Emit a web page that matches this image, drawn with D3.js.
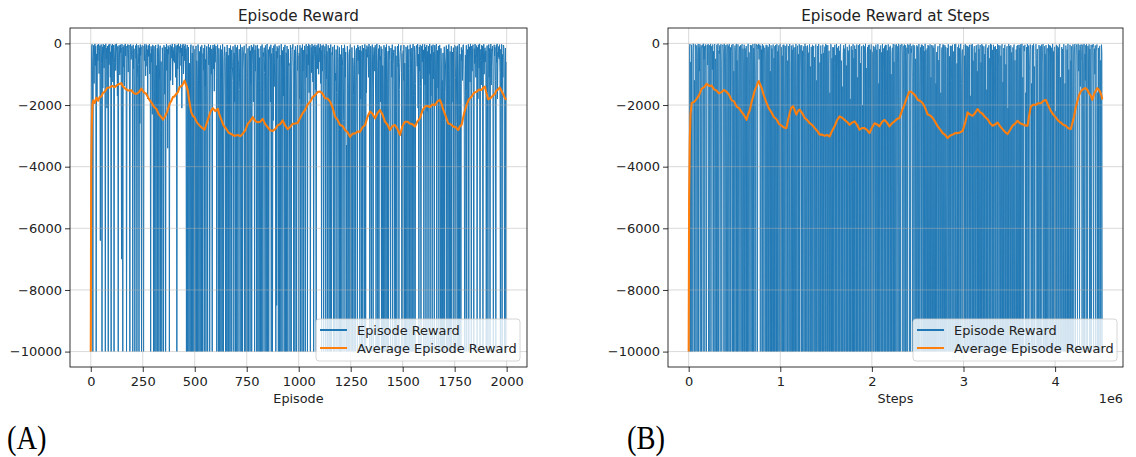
<!DOCTYPE html>
<html>
<head>
<meta charset="utf-8">
<script src="https://cdn.jsdelivr.net/npm/d3@7"></script>
<style>
  body { margin: 0; background: #fff; }
  svg text { font-family: "DejaVu Sans", sans-serif; fill: #222; }
</style>
</head>
<body>
<svg id="chart" width="1136" height="457"></svg>
<script>
// ---------- Panel A: reward per episode (one sample every 2 episodes) ----------
const episodeStride = 2;
const rewardsA = [
  -10000,-2400,-150,-30,-860,-10000,-420,-60,-1300,-210,-15,-720,-90,-10000,-340,-1800,-45,-560,-120,-20,-980,-260,-70,-6400,-180,-35,-640,-10000,-110,-1450,-25,-380,-800,-55,-240,-10000,-12,-500,-160,-2100,-85,-310,-10000,-40,-690,-130,-18,-1100,-270,-10000,
  -75,-430,-20,-1250,-190,-55,-10000,-610,-140,-30,-880,-260,-10,-350,-1700,-95,-10000,-470,-65,-220,-1020,-40,-300,-150,-7000,-25,-540,-10000,-115,-760,-60,-1380,-200,-14,-410,-85,-10000,-650,-170,-35,-930,-245,-50,-1550,-10000,-120,-28,-520,-310,-90,
  -360,-10000,-45,-820,-175,-1900,-10000,-230,-70,-480,-13,-10000,-1150,-290,-60,-680,-10000,-140,-2600,-38,-390,-105,-10000,-910,-50,-250,-1420,-10000,-80,-560,-22,-320,-1050,-150,-40,-740,-200,-1800,-65,-420,-130,-27,-990,-330,-10000,-95,-610,-180,-2300,-48,
  -270,-10000,-90,-1500,-10000,-330,-55,-10000,-720,-2100,-160,-10000,-35,-460,-10000,-1250,-210,-75,-10000,-590,-2800,-10000,-140,-380,-1000,-10000,-60,-290,-1650,-120,-10000,-520,-24,-880,-190,-3400,-70,-350,-130,-10000,-760,-45,-1200,-250,-95,-480,-16,-1350,-220,-560,
  -130,-620,-20,-340,-1100,-75,-260,-10000,-45,-830,-180,-12,-470,-1500,-95,-300,-30,-720,-150,-2100,-60,-410,-18,-990,-230,-85,-560,-28,-1300,-170,-10000,-350,-50,-10000,-1800,-120,-10000,-640,-2600,-10000,-210,-40,-10000,-900,-310,-10000,-75,-1400,-10000,-460,
  -190,-10000,-3100,-80,-10000,-560,-1200,-10000,-35,-740,-10000,-260,-1900,-10000,-110,-420,-10000,-60,-2500,-10000,-330,-870,-150,-10000,-45,-1400,-520,-10000,-210,-95,-1650,-10000,-380,-25,-700,-130,-10000,-2200,-60,-470,-1000,-180,-10000,-300,-50,-820,-140,-1550,-35,-610,
  -240,-85,-1100,-10000,-360,-40,-780,-10000,-160,-2300,-10000,-520,-70,-10000,-1350,-200,-10000,-30,-640,-10000,-1800,-420,-110,-450,-10000,-950,-280,-10000,-55,-1600,-10000,-390,-10000,-150,-2700,-10000,-70,-830,-210,-10000,-1200,-760,-95,-500,-10000,-310,-1900,-45,-10000,-680,
  -130,-10000,-2400,-60,-10000,-700,-520,-190,-1500,-10000,-40,-430,-10000,-3000,-120,-10000,-860,-340,-250,-75,-10000,-1700,-330,-10000,-20,-590,-10000,-1100,-160,-10000,-2600,-90,-470,-10000,-240,-1300,-55,-10000,-680,-140,-110,-1900,-35,-380,-10000,-210,-900,-65,-1450,-10000,
  -280,-50,-10000,-1200,-170,-10000,-460,-2200,-10000,-90,-730,-10000,-35,-1600,-10000,-300,-420,-140,-950,-10000,-65,-2800,-10000,-410,-20,-10000,-1350,-200,-10000,-560,-110,-260,-1900,-45,-10000,-330,-820,-10000,-150,-2500,-75,-1400,-630,-30,-1150,-10000,-250,-8500,-95,-480,
  -160,-10000,-1450,-70,-10000,-380,-2600,-10000,-25,-810,-10000,-230,-350,-1700,-120,-10000,-540,-45,-10000,-2100,-300,-10000,-85,-1000,-10000,-190,-720,-650,-3200,-10000,-60,-420,-10000,-1250,-140,-180,-30,-760,-10000,-2000,-210,-10000,-95,-500,-1350,-10000,-270,-55,-880,-400,
  -10000,-310,-1800,-60,-10000,-520,-140,-2300,-10000,-35,-900,-220,-10000,-1400,-80,-450,-10000,-170,-25,-1100,-360,-10000,-90,-700,-15,-1600,-250,-55,-10000,-480,-130,-950,-20,-320,-1250,-75,-10000,-580,-200,-40,-1500,-110,-10000,-410,-60,-820,-180,-12,-1000,-290,
  -140,-600,-25,-1300,-230,-10000,-70,-900,-180,-40,-10000,-1700,-330,-95,-560,-10000,-20,-1150,-260,-10000,-480,-65,-2000,-10000,-150,-780,-10000,-35,-1400,-10000,-290,-380,-110,-2400,-10000,-520,-50,-10000,-960,-1200,-200,-1600,-10000,-75,-90,-430,-2800,-10000,-130,-10000,
  -360,-10000,-1900,-60,-10000,-740,-430,-150,-2500,-10000,-45,-190,-1100,-280,-10000,-3300,-10000,-90,-620,-10000,-1450,-340,-200,-10000,-35,-880,-10000,-2100,-130,-10000,-470,-680,-1700,-10000,-75,-300,-10000,-1250,-250,-160,-2700,-10000,-50,-560,-120,-1000,-220,-10000,-85,-1800,
  -240,-10000,-1350,-55,-10000,-600,-150,-2200,-10000,-30,-820,-10000,-190,-1600,-70,-450,-310,-110,-1100,-20,-330,-10000,-2500,-90,-680,-10000,-210,-40,-1450,-10000,-370,-130,-240,-900,-60,-2000,-10000,-280,-15,-750,-10000,-1200,-170,-10000,-50,-540,-420,-1900,-100,-10000,
  -180,-10000,-720,-1600,-10000,-60,-430,-10000,-2400,-130,-10000,-35,-950,-10000,-1300,-250,-10000,-80,-140,-560,-2900,-10000,-150,-520,-1100,-40,-10000,-680,-300,-210,-1800,-10000,-95,-10000,-400,-2200,-10000,-120,-85,-760,-30,-10000,-1500,-620,-270,-180,-60,-950,-10000,-330,
  -10000,-240,-1200,-55,-10000,-640,-2000,-10000,-110,-380,-10000,-1500,-70,-10000,-820,-190,-2600,-10000,-40,-460,-10000,-1050,-150,-10000,-300,-25,-1700,-10000,-90,-560,-10000,-1300,-200,-65,-170,-740,-20,-2100,-350,-10000,-120,-900,-45,-1400,-10000,-260,-80,-600,-30,-1150,
  -210,-10000,-560,-30,-1350,-120,-10000,-800,-50,-2200,-260,-10000,-90,-430,-1000,-15,-10000,-340,-1700,-75,-620,-10000,-180,-40,-1150,-280,-10000,-60,-500,-2000,-140,-22,-10000,-900,-230,-1450,-85,-10000,-380,-50,-1800,-10000,-160,-700,-10000,-1200,-10000,-310,-2500,-10000,
  -110,-10000,-1600,-700,-450,-70,-10000,-2300,-180,-10000,-900,-35,-10000,-1300,-260,-10000,-3000,-90,-10000,-620,-280,-1900,-140,-10000,-400,-50,-10000,-1100,-95,-230,-2600,-10000,-75,-760,-10000,-1450,-20,-10000,-350,-2000,-10000,-130,-560,-210,-1200,-60,-40,-470,-1700,-10000,
  -10000,-380,-1500,-60,-10000,-720,-200,-1900,-30,-10000,-540,-110,-1250,-15,-430,-10000,-85,-900,-250,-40,-1600,-10000,-170,-650,-20,-330,-1100,-70,-480,-10000,-130,-1800,-45,-260,-800,-12,-10000,-560,-190,-1350,-55,-420,-90,-10000,-700,-25,-1000,-310,-140,-600,
  -240,-10000,-850,-70,-1600,-10000,-300,-35,-1100,-160,-10000,-520,-20,-1350,-190,-230,-90,-760,-10000,-2000,-45,-410,-130,-1200,-10000,-60,-620,-15,-1800,-280,-440,-100,-500,-40,-950,-10000,-190,-1450,-30,-10000,-360,-1100,-55,-80,-700,-10000,-2200,-150,-10000,-600
];

// running average of the episode reward
const avgEpisodesA = [0,2,5,8,12,19,27,35,43,51,59,67,79,91,103,115,131,147,155,163,179,195,207,219,231,243,255,267,279,291,303,315,327,339,347,355,367,379,387,395,403,411,419,427,439,451,459,467,475,483,491,499,511,523,535,547,555,563,575,587,599,611,619,627,639,651,663,675,691,707,719,731,743,755,767,779,791,803,815,827,839,851,863,875,887,899,911,923,935,947,959,971,983,995,1007,1019,1031,1043,1055,1067,1079,1091,1103,1115,1127,1139,1151,1163,1175,1187,1199,1211,1223,1235,1247,1259,1271,1283,1295,1307,1319,1331,1343,1355,1367,1379,1391,1403,1415,1427,1439,1451,1463,1475,1487,1499,1511,1523,1535,1547,1559,1571,1583,1595,1607,1619,1631,1643,1655,1667,1679,1687,1695,1707,1719,1731,1743,1755,1767,1775,1783,1795,1807,1819,1831,1843,1855,1867,1879,1887,1895,1903,1911,1923,1935,1943,1951,1959,1967,1975,1983,1991,1998];
const avgRewardsA = [-10000,-4200,-2600,-2000,-1850,-1930,-1760,-1860,-1740,-1720,-1600,-1570,-1440,-1430,-1380,-1420,-1330,-1290,-1400,-1450,-1530,-1520,-1620,-1640,-1590,-1470,-1580,-1640,-1800,-1910,-2050,-2120,-2300,-2390,-2470,-2400,-2220,-1960,-1870,-1740,-1720,-1640,-1580,-1420,-1370,-1210,-1350,-1540,-1920,-2230,-2350,-2400,-2570,-2660,-2740,-2800,-2640,-2480,-2230,-2100,-2200,-2120,-2320,-2460,-2670,-2770,-2900,-2940,-3000,-2970,-3010,-2930,-2820,-2610,-2520,-2390,-2520,-2560,-2540,-2450,-2620,-2720,-2820,-2840,-2780,-2660,-2620,-2500,-2670,-2780,-2710,-2610,-2600,-2580,-2420,-2260,-2160,-1980,-1890,-1740,-1680,-1580,-1560,-1630,-1780,-1790,-1890,-2080,-2380,-2480,-2650,-2680,-2810,-2880,-3030,-2930,-2920,-2860,-2870,-2720,-2650,-2380,-2210,-2280,-2430,-2260,-2160,-2310,-2540,-2640,-2810,-2680,-2650,-2780,-2970,-2680,-2540,-2540,-2600,-2620,-2700,-2530,-2430,-2180,-2050,-2030,-2060,-1980,-2000,-1880,-1830,-1960,-2150,-2360,-2600,-2620,-2700,-2720,-2810,-2690,-2650,-2280,-2000,-1810,-1730,-1600,-1570,-1500,-1510,-1440,-1400,-1620,-1810,-1770,-1690,-1640,-1530,-1490,-1430,-1540,-1640,-1770,-1830];

// ---------- Panel B: reward against environment steps ----------
const stepStride = 4520;
const rewardsB = [
  -10000,-10000,-150,-20,-10000,-600,-10000,-45,-10000,-10000,-300,-10,-80,-10000,-1200,-10000,-30,-220,-10000,-75,-60,-450,-10000,-15,-10000,-130,-900,-25,-10000,-350,-70,-10000,-110,-40,-180,-10000,-8,-520,-90,-10000,-260,-35,-1500,-10000,-120,-50,-700,-20,-10000,-200,
  -60,-10000,-400,-15,-10000,-95,-140,-850,-35,-10000,-250,-10000,-70,-20,-10000,-500,-1300,-10000,-45,-10000,-190,-10,-10000,-240,-330,-65,-10000,-160,-25,-720,-10000,-90,-50,-40,-280,-10000,-12,-1100,-10000,-110,-55,-10000,-420,-30,-10000,-200,-75,-10000,-18,-600,
  -10000,-130,-10000,-260,-45,-380,-10000,-20,-10000,-900,-10000,-140,-70,-240,-10000,-15,-10000,-550,-10000,-30,-1600,-10000,-380,-100,-10000,-60,-310,-10000,-90,-25,-10000,-170,-800,-10000,-40,-10000,-160,-220,-10000,-85,-10000,-450,-10000,-35,-12,-10000,-290,-1400,-10000,-50,
  -230,-10000,-65,-700,-10000,-20,-10000,-150,-10000,-400,-10,-1000,-10000,-90,-30,-260,-10000,-50,-180,-15,-520,-120,-40,-10000,-80,-1300,-200,-10000,-25,-10000,-350,-70,-10000,-190,-140,-600,-10000,-45,-10000,-55,-280,-10000,-110,-10000,-320,-20,-10000,-900,-10000,-60,
  -10000,-170,-10000,-300,-35,-10000,-480,-10000,-90,-10000,-50,-1100,-10000,-25,-10000,-260,-10000,-180,-60,-10000,-700,-15,-10000,-110,-140,-10000,-400,-10000,-45,-10000,-40,-1800,-10000,-80,-220,-10000,-650,-30,-10000,-560,-10000,-85,-120,-10000,-20,-950,-10000,-10000,-70,-10000,
  -210,-10000,-40,-10000,-140,-600,-10000,-120,-10000,-18,-1300,-10000,-220,-75,-10000,-350,-10000,-25,-10000,-60,-160,-880,-10000,-55,-10000,-240,-10000,-500,-95,-10000,-420,-12,-10000,-85,-190,-10000,-1500,-65,-10000,-300,-10000,-170,-30,-10000,-750,-10000,-110,-10000,-10000,-45,
  -10000,-260,-80,-10000,-450,-10000,-10000,-30,-10000,-1200,-10000,-90,-150,-10000,-20,-10000,-10000,-620,-10000,-70,-10000,-340,-2200,-10000,-40,-10000,-310,-10000,-190,-100,-10000,-15,-10000,-60,-900,-10000,-55,-10000,-700,-240,-10000,-1600,-10000,-25,-35,-10000,-480,-10000,-120,-10000,
  -130,-10000,-650,-45,-10000,-380,-10000,-20,-10000,-140,-950,-10000,-85,-10000,-240,-10000,-80,-30,-10000,-560,-10000,-1400,-10000,-360,-60,-10000,-170,-10000,-50,-15,-10000,-720,-10000,-110,-10000,-230,-300,-10000,-40,-10000,-1800,-10000,-120,-90,-10000,-210,-10000,-25,-10000,-480,
  -10000,-70,-10000,-180,-260,-10000,-35,-10000,-1100,-10000,-60,-150,-10000,-20,-10000,-640,-10000,-220,-90,-10000,-2000,-10000,-45,-10000,-95,-330,-10000,-12,-10000,-800,-10000,-350,-120,-10000,-55,-10000,-40,-1500,-10000,-200,-10000,-30,-10000,-270,-430,-10000,-80,-10000,-10000,-160,
  -110,-10000,-40,-10000,-210,-520,-10000,-25,-10000,-1300,-10000,-180,-10000,-90,-65,-10000,-290,-10000,-15,-10000,-160,-850,-10000,-100,-10000,-45,-10000,-50,-1700,-10000,-230,-10000,-30,-10000,-120,-400,-10000,-75,-10000,-1000,-10000,-300,-140,-10000,-20,-10000,-600,-10000,-35,-55,
  -10000,-190,-30,-10000,-650,-90,-10000,-15,-1200,-10000,-260,-45,-10000,-120,-95,-20,-400,-10000,-75,-1500,-10000,-35,-210,-10000,-60,-10000,-900,-140,-10000,-25,-180,-330,-50,-10000,-700,-10,-10000,-170,-300,-80,-1100,-10000,-40,-250,-10000,-65,-110,-10000,-500,-10000,
  -10000,-60,-10000,-100,-350,-10000,-20,-10000,-1400,-380,-130,-10000,-40,-10000,-45,-700,-10000,-85,-10000,-250,-10000,-15,-10000,-210,-1900,-10000,-160,-10000,-50,-10000,-90,-480,-10000,-30,-10000,-1100,-10000,-55,-200,-10000,-70,-10000,-140,-600,-10000,-25,-10000,-1300,-10000,-280,
  -10000,-310,-90,-10000,-540,-10000,-70,-20,-10000,-1600,-10000,-190,-130,-10000,-35,-10000,-45,-800,-10000,-60,-10000,-120,-2300,-10000,-380,-150,-10000,-25,-10000,-10000,-420,-10000,-75,-10000,-85,-1200,-10000,-40,-10000,-10000,-260,-10000,-30,-110,-10000,-18,-10000,-10000,-650,-10000,
  -120,-10000,-35,-10000,-160,-700,-10000,-15,-10000,-1300,-350,-200,-10000,-280,-55,-10000,-400,-10000,-25,-10000,-65,-1000,-10000,-80,-10000,-110,-240,-10000,-45,-10000,-1700,-10000,-40,-140,-10000,-20,-10000,-560,-10000,-210,-90,-10000,-300,-10000,-75,-60,-10000,-900,-10000,-30,
  -10000,-180,-10000,-260,-50,-10000,-620,-10000,-20,-10000,-70,-1100,-10000,-95,-10000,-350,-10000,-150,-30,-10000,-1500,-10000,-140,-10000,-230,-60,-10000,-480,-10000,-12,-10000,-40,-900,-10000,-210,-10000,-45,-10000,-110,-2000,-10000,-85,-10000,-190,-300,-10000,-25,-10000,-750,-55,
  -10000,-240,-70,-10000,-400,-10000,-110,-25,-10000,-1250,-10000,-150,-10000,-55,-40,-10000,-680,-10000,-170,-90,-10000,-2100,-10000,-18,-10000,-85,-320,-10000,-60,-10000,-290,-1000,-10000,-130,-10000,-130,-35,-10000,-550,-10000,-10000,-200,-10000,-80,-10000,-50,-1400,-10000,-45,-10000,
  -150,-10000,-30,-10000,-600,-15,-10000,-1100,-10000,-80,-140,-250,-45,-10000,-1600,-10000,-120,-10000,-20,-450,-10000,-70,-10000,-900,-260,-35,-200,-10000,-1300,-10000,-60,-10000,-340,-12,-10000,-750,-10000,-100,-65,-25,-520,-10000,-180,-10000,-1900,-10000,-50,-280,-10000,-90,
  -10000,-230,-40,-10000,-700,-95,-20,-10000,-1200,-90,-10000,-350,-10000,-55,-10000,-310,-160,-10000,-1500,-30,-10000,-60,-420,-10000,-75,-10000,-140,-900,-10000,-15,-10000,-260,-10000,-200,-110,-10000,-2200,-10000,-45,-10000,-80,-600,-10000,-130,-10000,-35,-25,-10000,-1100,-10000,
  -10000,-120,-10000,-180,-380,-10000,-25,-10000,-10000,-1300,-10000,-70,-10000,-10000,-200,-10000,-15,-10000,-850,-10000,-10000,-45,-10000,-560,-10000,-90,-1600,-10000,-30,-250,-10000,-700,-60,-20,-10000,-1100,-140,-35,-400,-10000,-80,-15,-900,-220,-10000,-50,-1400,-110,-30,-600,
  -10000,-200,-40,-10000,-800,-15,-10000,-350,-1200,-60,-10000,-25,-500,-10000,-90,-140,-1500,-30,-10000,-180,-10000,-700,-45,-10000,-2000,-60,-120,-20,-10000,-400,-170,-1000,-65,-10000,-250,-220,-35,-10000,-1600,-10000,-150,-10000,-110,-80,-10000,-550,-10000,-40,-300,-10000
];

// running average, x in millions of steps
const avgStepsB = [0,0.005,0.012,0.02,0.033,0.06,0.087,0.115,0.142,0.17,0.196,0.225,0.25,0.28,0.305,0.33,0.36,0.385,0.414,0.44,0.468,0.495,0.523,0.55,0.577,0.605,0.632,0.65,0.668,0.685,0.704,0.72,0.74,0.755,0.766,0.78,0.795,0.82,0.849,0.875,0.904,0.93,0.958,0.985,1.013,1.04,1.067,1.085,1.103,1.12,1.14,1.158,1.176,1.195,1.212,1.24,1.267,1.294,1.321,1.35,1.376,1.403,1.43,1.457,1.484,1.51,1.539,1.565,1.593,1.62,1.648,1.675,1.702,1.73,1.757,1.784,1.811,1.838,1.865,1.892,1.92,1.947,1.974,2.0,2.029,2.056,2.083,2.11,2.138,2.165,2.192,2.22,2.247,2.274,2.301,2.328,2.355,2.383,2.41,2.428,2.446,2.473,2.5,2.528,2.555,2.582,2.609,2.637,2.664,2.69,2.718,2.745,2.773,2.8,2.827,2.855,2.882,2.91,2.936,2.963,2.991,3.02,3.045,3.072,3.1,3.127,3.154,3.18,3.209,3.236,3.263,3.29,3.318,3.345,3.372,3.4,3.426,3.455,3.481,3.508,3.535,3.562,3.59,3.617,3.644,3.67,3.699,3.717,3.735,3.762,3.79,3.817,3.844,3.87,3.898,3.925,3.953,3.98,4.007,4.035,4.062,4.09,4.116,4.144,4.171,4.19,4.207,4.225,4.243,4.26,4.28,4.307,4.334,4.352,4.37,4.388,4.406,4.43,4.461,4.48,4.497,4.507,4.515];
const avgRewardsB = [-10000,-5000,-3200,-2300,-1930,-1900,-1800,-1670,-1470,-1420,-1310,-1380,-1370,-1500,-1530,-1620,-1580,-1510,-1570,-1660,-1840,-1880,-2050,-2100,-2220,-2330,-2480,-2290,-2160,-1930,-1720,-1540,-1400,-1270,-1220,-1340,-1430,-1690,-1920,-2110,-2240,-2390,-2460,-2610,-2670,-2730,-2750,-2480,-2260,-2090,-2040,-2170,-2310,-2190,-2150,-2270,-2420,-2490,-2590,-2650,-2750,-2840,-2960,-2960,-3000,-2970,-3020,-2840,-2690,-2490,-2370,-2410,-2480,-2550,-2640,-2570,-2530,-2640,-2800,-2750,-2750,-2810,-2910,-2740,-2590,-2630,-2690,-2550,-2480,-2570,-2690,-2590,-2530,-2450,-2420,-2190,-1990,-1750,-1560,-1570,-1610,-1690,-1830,-1870,-1940,-2090,-2310,-2340,-2420,-2540,-2690,-2790,-2910,-2970,-3070,-2990,-2960,-2910,-2910,-2890,-2840,-2560,-2240,-2310,-2350,-2260,-2130,-2230,-2290,-2390,-2460,-2590,-2670,-2630,-2570,-2690,-2780,-2880,-2940,-2810,-2670,-2610,-2510,-2590,-2620,-2660,-2670,-2340,-2040,-1990,-1990,-1940,-1940,-1870,-1830,-2010,-2190,-2310,-2400,-2510,-2570,-2640,-2670,-2750,-2780,-2570,-2370,-2090,-1880,-1690,-1560,-1480,-1450,-1510,-1610,-1690,-1830,-1610,-1450,-1510,-1610,-1700,-1820];

// ---------- Shared axis settings ----------
const yTicks = [0, -2000, -4000, -6000, -8000, -10000];
const xTicksA = [0, 250, 500, 750, 1000, 1250, 1500, 1750, 2000];
const xTicksB = [0, 1000000, 2000000, 3000000, 4000000];
const seriesNames = ["Episode Reward", "Average Episode Reward"];
const seriesColors = ["#1f77b4", "#ff7f0e"];

const minusFmt = d => String(d).replace("-", "\u2212");

const svg = d3.select("#chart");
svg.append("rect").attr("width", 1136).attr("height", 457).attr("fill", "#fff");

const plotTop = 28, plotBottom = 367;

function drawPanel(p) {
  const g = svg.append("g");
  const xs = p.rewards.map((_, i) => i * p.stride);
  const lo = d3.min(xs), hi = d3.max(xs), pad = (hi - lo) * 0.05;
  const x = d3.scaleLinear().domain([lo - pad, hi + pad]).range([p.left, p.right]);
  const y = d3.scaleLinear().domain([-10500, 500]).range([plotBottom, plotTop]);

  // episode rewards
  const line = d3.line().x(d => x(d[0])).y(d => y(d[1]));
  g.append("path")
    .datum(p.rewards.map((v, i) => [xs[i], v]))
    .attr("d", line)
    .attr("fill", "none")
    .attr("stroke", seriesColors[0])
    .attr("stroke-width", p.rewardWidth)
    .attr("stroke-linejoin", "round");

  // grid
  const grid = g.append("g").attr("stroke", "#b0b0b0").attr("stroke-width", 0.8).attr("stroke-opacity", 0.6);
  grid.selectAll(".gx").data(p.xTicks).join("line")
    .attr("x1", d => x(d)).attr("x2", d => x(d)).attr("y1", plotTop).attr("y2", plotBottom);
  grid.selectAll(".gy").data(yTicks).join("line")
    .attr("x1", p.left).attr("x2", p.right).attr("y1", d => y(d)).attr("y2", d => y(d));

  // running average
  g.append("path")
    .datum(p.avgX.map((v, i) => [v * p.avgScale, p.avgY[i]]))
    .attr("d", line)
    .attr("fill", "none")
    .attr("stroke", seriesColors[1])
    .attr("stroke-width", 2.1)
    .attr("stroke-linejoin", "round");

  // axes
  const xAxis = d3.axisBottom(x).tickValues(p.xTicks).tickFormat(p.xFormat).tickSize(5).tickPadding(4.5);
  const yAxis = d3.axisLeft(y).tickValues(yTicks).tickFormat(minusFmt).tickSize(5).tickPadding(3);
  const gx = g.append("g").attr("transform", `translate(0,${plotBottom})`).call(xAxis);
  const gy = g.append("g").attr("transform", `translate(${p.left},0)`).call(yAxis);
  [gx, gy].forEach(a => {
    a.select(".domain").remove();
    a.selectAll("line").attr("stroke", "#000").attr("stroke-width", 0.8);
    a.selectAll("text").attr("font-size", 13).attr("font-family", "DejaVu Sans").attr("fill", "#222");
  });

  // frame
  g.append("rect")
    .attr("x", p.left).attr("y", plotTop)
    .attr("width", p.right - p.left).attr("height", plotBottom - plotTop)
    .attr("fill", "none").attr("stroke", "#000").attr("stroke-width", 0.8);

  const cx = (p.left + p.right) / 2;
  g.append("text").attr("x", cx).attr("y", 21).attr("text-anchor", "middle")
    .attr("font-size", 15.2).text(p.title);
  g.append("text").attr("x", cx).attr("y", 403).attr("text-anchor", "middle")
    .attr("font-size", 12.8).text(p.xLabel);
  if (p.offsetText) {
    g.append("text").attr("x", p.right).attr("y", 403).attr("text-anchor", "end")
      .attr("font-size", 12.8).text(p.offsetText);
  }

  // legend
  const lg = g.append("g").attr("transform", `translate(${p.legendX},319)`);
  lg.append("rect").attr("width", 204).attr("height", 42).attr("rx", 3)
    .attr("fill", "#fff").attr("fill-opacity", 0.8)
    .attr("stroke", "#cccccc").attr("stroke-width", 0.8);
  seriesNames.forEach((name, i) => {
    const yy = 11 + i * 18;
    lg.append("line").attr("x1", 4).attr("x2", 31).attr("y1", yy).attr("y2", yy)
      .attr("stroke", seriesColors[i]).attr("stroke-width", 2);
    lg.append("text").attr("x", 41).attr("y", yy + 4.7).attr("font-size", 12.9).text(name);
  });

  // panel tag
  svg.append("text")
    .attr("transform", `translate(${p.tagX},449) scale(0.84,1)`)
    .attr("font-size", 34)
    .style("font-family", "'Liberation Serif', serif")
    .style("fill", "#000")
    .text(p.tag);
}

drawPanel({
  rewards: rewardsA, stride: episodeStride, rewardWidth: 1.0,
  avgX: avgEpisodesA, avgScale: 1, avgY: avgRewardsA,
  left: 70, right: 527,
  xTicks: xTicksA, xFormat: d => String(d),
  title: "Episode Reward", xLabel: "Episode",
  legendX: 316, tag: "(A)", tagX: 7
});

drawPanel({
  rewards: rewardsB, stride: stepStride, rewardWidth: 0.85,
  avgX: avgStepsB, avgScale: 1e6, avgY: avgRewardsB,
  left: 668, right: 1123,
  xTicks: xTicksB, xFormat: d => String(d / 1e6),
  title: "Episode Reward at Steps", xLabel: "Steps", offsetText: "1e6",
  legendX: 913, tag: "(B)", tagX: 627
});
</script>
</body>
</html>
